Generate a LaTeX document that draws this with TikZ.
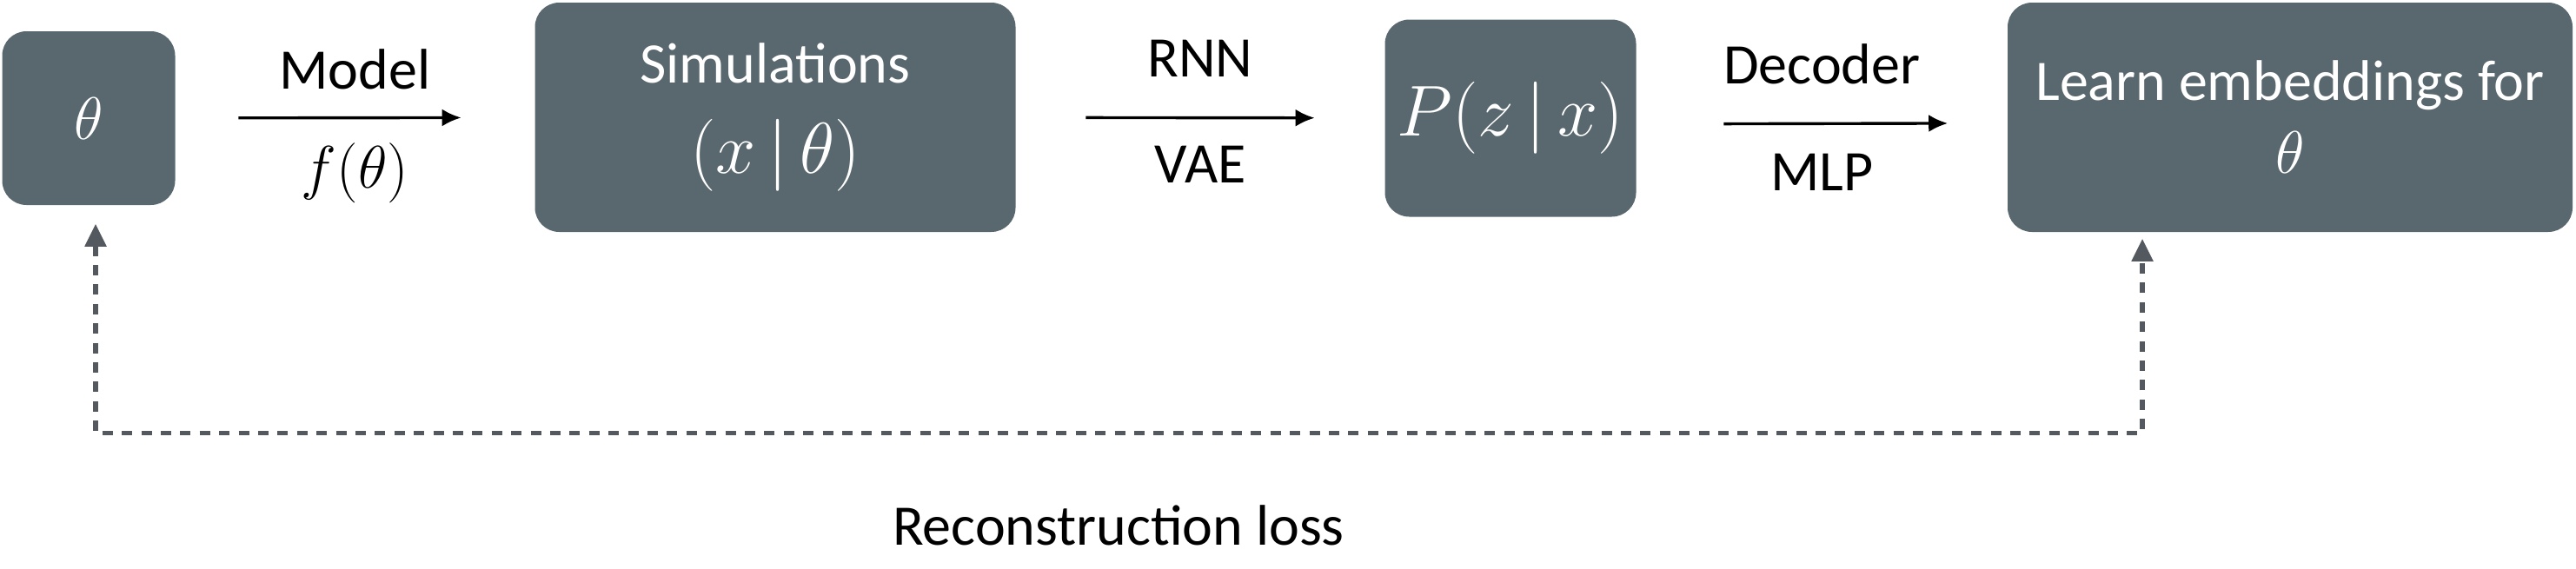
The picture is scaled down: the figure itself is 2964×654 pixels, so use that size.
\documentclass[tikz,border=0pt]{standalone}
\usepackage{amsmath,amssymb}
\usepackage{fontspec}
\setmainfont{Carlito}
\usepackage{tikz}
\usetikzlibrary{arrows.meta,positioning,calc}
\usepackage{xcolor}
\definecolor{boxgray}{RGB}{89,103,110}
\definecolor{lossgray}{RGB}{84,89,95}
\newcommand{\bigmath}{\fontsize{19}{23}\selectfont}

\tikzset{
  stagebox/.style={fill=boxgray, draw=none, rounded corners=7pt, text=white, align=center, font=\fontsize{16.5}{20}\selectfont, inner sep=0pt},
  flow/.style={-{Latex[length=5.5pt,width=5pt]}, line width=0.85pt, black},
  lbl/.style={font=\fontsize{16.5}{20}\selectfont, text=black},
  lossline/.style={{Triangle[length=6.5pt,width=6pt]}-{Triangle[length=6.5pt,width=6pt]}, lossgray, line width=1.3pt, dash pattern=on 3pt off 2.6pt}
}

\begin{document}
\begin{tikzpicture}[x=0.25pt, y=-0.25pt]
\useasboundingbox (0,0) rectangle (2964,654);

\node[stagebox, minimum width=199*0.25pt, minimum height=200*0.25pt] (theta) at (102,136) {\bigmath$\theta$};
\node[stagebox, minimum width=553*0.25pt, minimum height=264*0.25pt] (sim) at (892,135) {Simulations\\[6pt]{\fontsize{21}{25}\selectfont$(x\,|\,\theta)$}};
\node[stagebox, minimum width=289*0.25pt, minimum height=227*0.25pt] (pz) at (1738,136) {\fontsize{21}{25}\selectfont$P(z\,|\,x)$};
\node[stagebox, minimum width=650*0.25pt, minimum height=264*0.25pt] (learn) at (2635,135) {Learn embeddings for\\[1pt]\bigmath$\theta$};

\draw[flow, shorten <=18pt, shorten >=21pt] (theta) -- node[lbl, midway, yshift=14pt] {Model} node[lbl, midway, yshift=-16pt] {\fontsize{18}{22}\selectfont$f(\theta)$} (sim);
\draw[flow, shorten <=20pt, shorten >=20pt] (sim) -- node[lbl, midway, yshift=17pt] {RNN} node[lbl, midway, yshift=-13.5pt] {VAE} (pz);
\draw[flow, shorten <=25pt, shorten >=17pt] ([yshift=-1.7pt]pz.east) -- node[lbl, midway, yshift=17pt] {Decoder} node[lbl, midway, yshift=-14pt] {MLP} ([yshift=-1.7pt]learn.west);

\draw[lossline] ([shift={(8,21)}]theta.south) -- ++(0,241) -| ([shift={(-170,7)}]learn.south);
\node[lbl] (losslabel) at (1287,605) {Reconstruction loss};
\end{tikzpicture}
\end{document}
